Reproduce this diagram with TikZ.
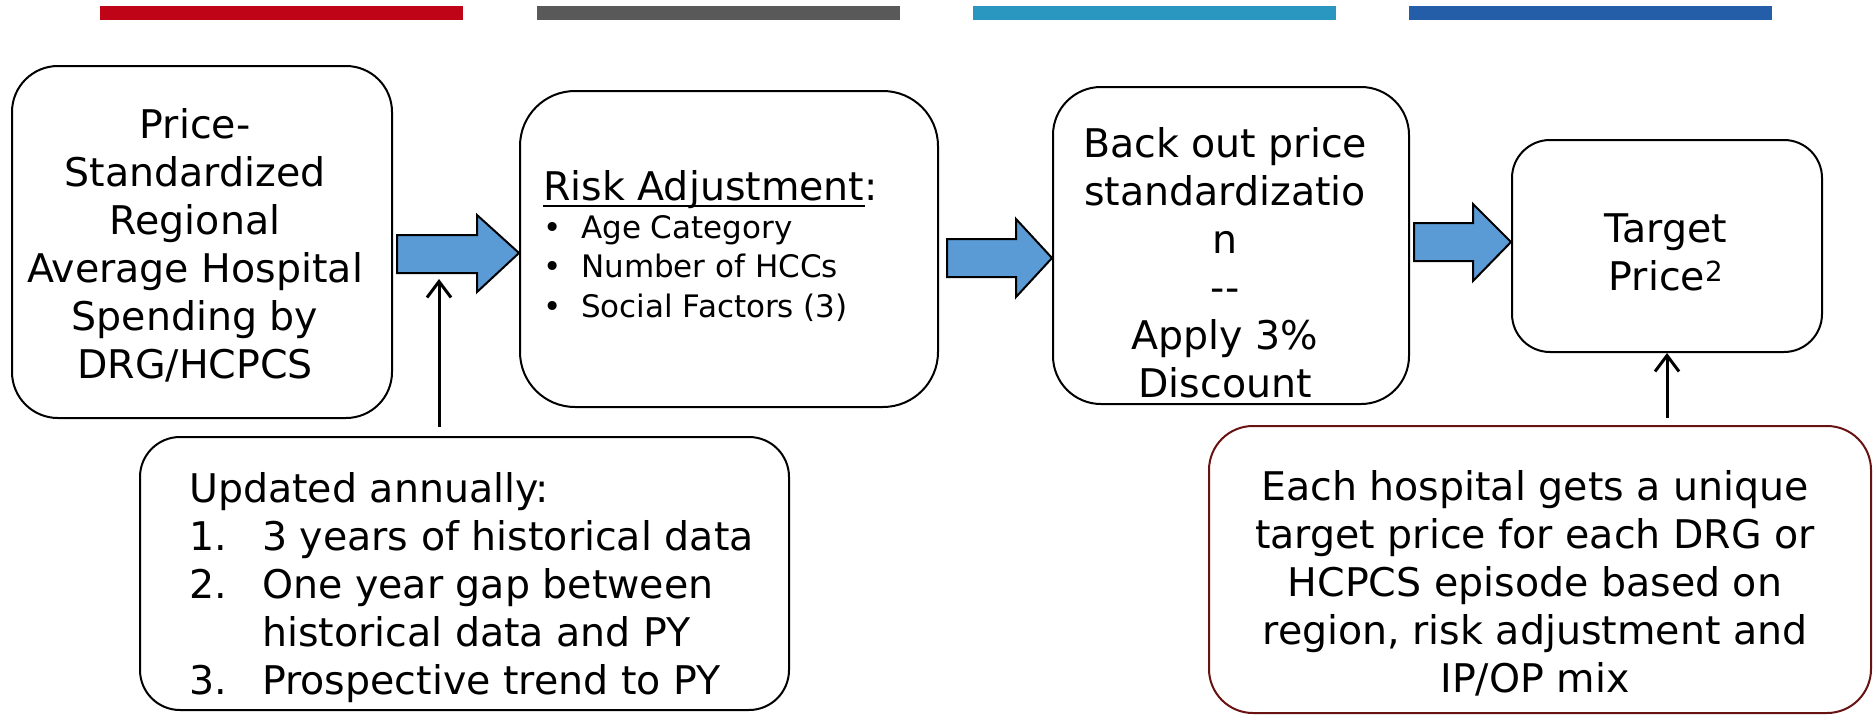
\documentclass[tikz,border=0pt]{standalone}
\usepackage{fontspec}
\setmainfont{DejaVu Sans}[Ligatures=NoCommon]
\usetikzlibrary{arrows.meta}
\definecolor{barred}{RGB}{192,4,24}
\definecolor{bargray}{RGB}{89,89,89}
\definecolor{barcyan}{RGB}{41,151,192}
\definecolor{barblue}{RGB}{37,94,168}
\definecolor{arrowfill}{RGB}{91,155,213}
\definecolor{darkred}{RGB}{105,18,18}
\newcommand\mainfnt{\fontsize{39.5}{48}\selectfont}
\newcommand\smallfnt{\fontsize{31}{39.5}\selectfont}
\begin{document}
\begin{tikzpicture}[x=1pt,y=-1pt,
  box/.style={draw=black, line width=2pt, fill=white, inner sep=0pt},
  txt/.style={inner sep=0pt, font=\mainfnt, text=black},
  ctxt/.style={txt, align=center},
  bullettxt/.style={inner sep=0pt, font=\smallfnt, text=black, anchor=base west},
  blockarrow/.style={draw=black, line width=2pt, fill=arrowfill, line join=miter},
  thinarrow/.style={draw=black, line width=3pt, -{Straight Barb[length=16pt,width=24pt]}}]
\useasboundingbox (0,0) rectangle (1873,715);
% top bars
\fill[barred] (100,6) rectangle (463,20);
\fill[bargray] (537,6) rectangle (900,20);
\fill[barcyan] (973,6) rectangle (1336,20);
\fill[barblue] (1409,6) rectangle (1772,20);
% boxes
\node[box, rounded corners=46pt, minimum width=380pt, minimum height=352pt] (b1) at (202,242) {};
\node[box, rounded corners=55pt, minimum width=418pt, minimum height=316pt] (b2) at (729,249) {};
\node[box, rounded corners=48pt, minimum width=356pt, minimum height=317pt] (b3) at (1231,245.5) {};
\node[box, rounded corners=38pt, minimum width=310pt, minimum height=212pt] (b4) at (1667,246) {};
\node[box, rounded corners=40pt, minimum width=649pt, minimum height=273pt] (b5) at (464.5,573.5) {};
\node[box, draw=darkred, rounded corners=44pt, minimum width=662pt, minimum height=287pt] (b6) at (1540,569.5) {};
% box texts
\node[ctxt] (t1) at (195,245) {Price-\\Standardized\\Regional\\Average Hospital\\Spending by\\DRG/HCPCS};
\node[txt, anchor=base west] (t2) at (543,200) {Risk Adjustment\rlap{:}};
\draw[line width=2pt] ([yshift=-6pt]t2.base west) -- ([yshift=-6pt]t2.base east);
\node[bullettxt] (t2a) at (543,238) {\makebox[38pt][l]{\textbullet}Age Category};
\node[bullettxt] (t2b) at (543,277) {\makebox[38pt][l]{\textbullet}Number of HCCs};
\node[bullettxt] (t2c) at (543,317) {\makebox[38pt][l]{\textbullet}Social Factors (3)};
\node[ctxt] (t3) at (1225,263) {Back out price\\standardizatio\\n\\-{}-\\Apply 3\%\\Discount};
\node[ctxt] (t4) at (1666,252.5) {Target\\Price\textsuperscript{2}};
\node[txt, anchor=base west] (t5a) at (189,502) {Updated annually:};
\node[txt, anchor=base west] (t5b) at (189,550) {\makebox[73pt][l]{1.}3 years of historical data};
\node[txt, anchor=base west] (t5c) at (189,598) {\makebox[73pt][l]{2.}One year gap between};
\node[txt, anchor=base west] (t5d) at (262,646) {historical data and PY};
\node[txt, anchor=base west] (t5e) at (189,694) {\makebox[73pt][l]{3.}Prospective trend to PY};
\node[ctxt] (t6) at (1535,583) {Each hospital gets a unique\\target price for each DRG or\\HCPCS episode based on\\region, risk adjustment and\\IP/OP mix};
% block arrows
\draw[blockarrow] (397,235) -- (477,235) -- (477,215) -- (b2.west |- 0,253) -- (477,292) -- (477,273) -- (397,273) -- cycle;
\draw[blockarrow] (947,239) -- (1016,239) -- (1016,219) -- (b3.west |- 0,258) -- (1016,297) -- (1016,277) -- (947,277) -- cycle;
\draw[blockarrow] (1414,223) -- (1473,223) -- (1473,204) -- (b4.west |- 0,242) -- (1473,281) -- (1473,261) -- (1414,261) -- cycle;
% thin arrows
\coordinate (a1tail) at (439,427);
\coordinate (a1tip) at (439,279);
\draw[thinarrow] (a1tail) -- (a1tip);
\coordinate (a2tail) at (1667,418);
\draw[thinarrow] (a2tail) -- (b4.south);
\end{tikzpicture}
\end{document}
